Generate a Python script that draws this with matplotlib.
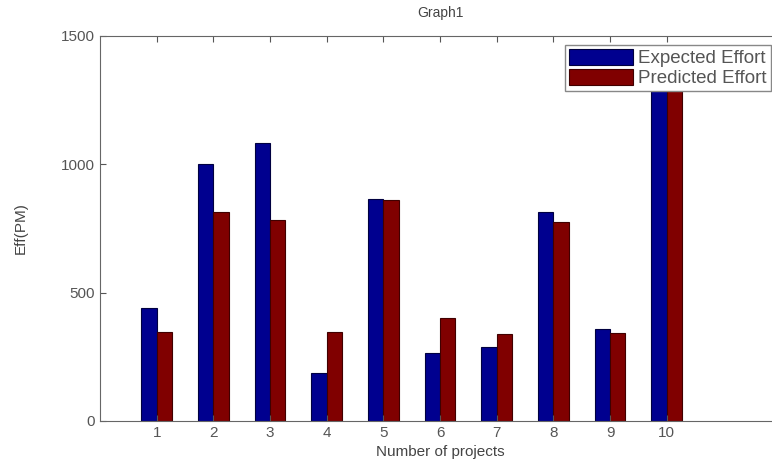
import numpy as np
import matplotlib.pyplot as plt

projects = [1, 2, 3, 4, 5, 6, 7, 8, 9, 10]
expected = [440, 1000, 1082, 187, 864, 265, 288, 813, 358, 1450]
predicted = [346, 815, 783, 346, 862, 401, 339, 774, 342, 1420]

plt.rcParams['font.family'] = ['Liberation Sans', 'DejaVu Sans']

fig = plt.figure(figsize=(7.72, 4.61), dpi=100)
ax = fig.add_axes([0.1295, 0.087, 0.881, 0.835])

x = np.array(projects)
w = 0.27
ax.bar(x - w / 2, expected, w, color='#00008F', edgecolor='#000040', linewidth=0.8, label='Expected Effort')
ax.bar(x + w / 2, predicted, w, color='#800000', edgecolor='#400000', linewidth=0.8, label='Predicted Effort')

ax.set_xlim(0, 12)
ax.set_ylim(0, 1500)
ax.set_xticks(projects)
ax.set_yticks([0, 500, 1000, 1500])
ax.tick_params(direction='in', top=True, right=True, labelsize=11, colors='#555555', length=4)
for s in ax.spines.values():
    s.set_color('#666666')

ax.set_title('Graph1', fontsize=10, color='#444444', pad=14)
ax.set_xlabel('Number of projects', fontsize=11, color='#444444', labelpad=4)
ax.set_ylabel('Eff(PM)', fontsize=11, color='#444444', labelpad=24)

leg = ax.legend(loc='upper right', fontsize=13.5, frameon=True, fancybox=False, framealpha=1,
                handlelength=3.4, handleheight=0.9, borderpad=0.2, labelspacing=0.1,
                borderaxespad=0.5, handletextpad=0.3)
leg.set_zorder(10)
leg.get_frame().set_edgecolor('#888888')
for t in leg.get_texts():
    t.set_color('#555555')

fig.savefig('out.png', dpi=100)
